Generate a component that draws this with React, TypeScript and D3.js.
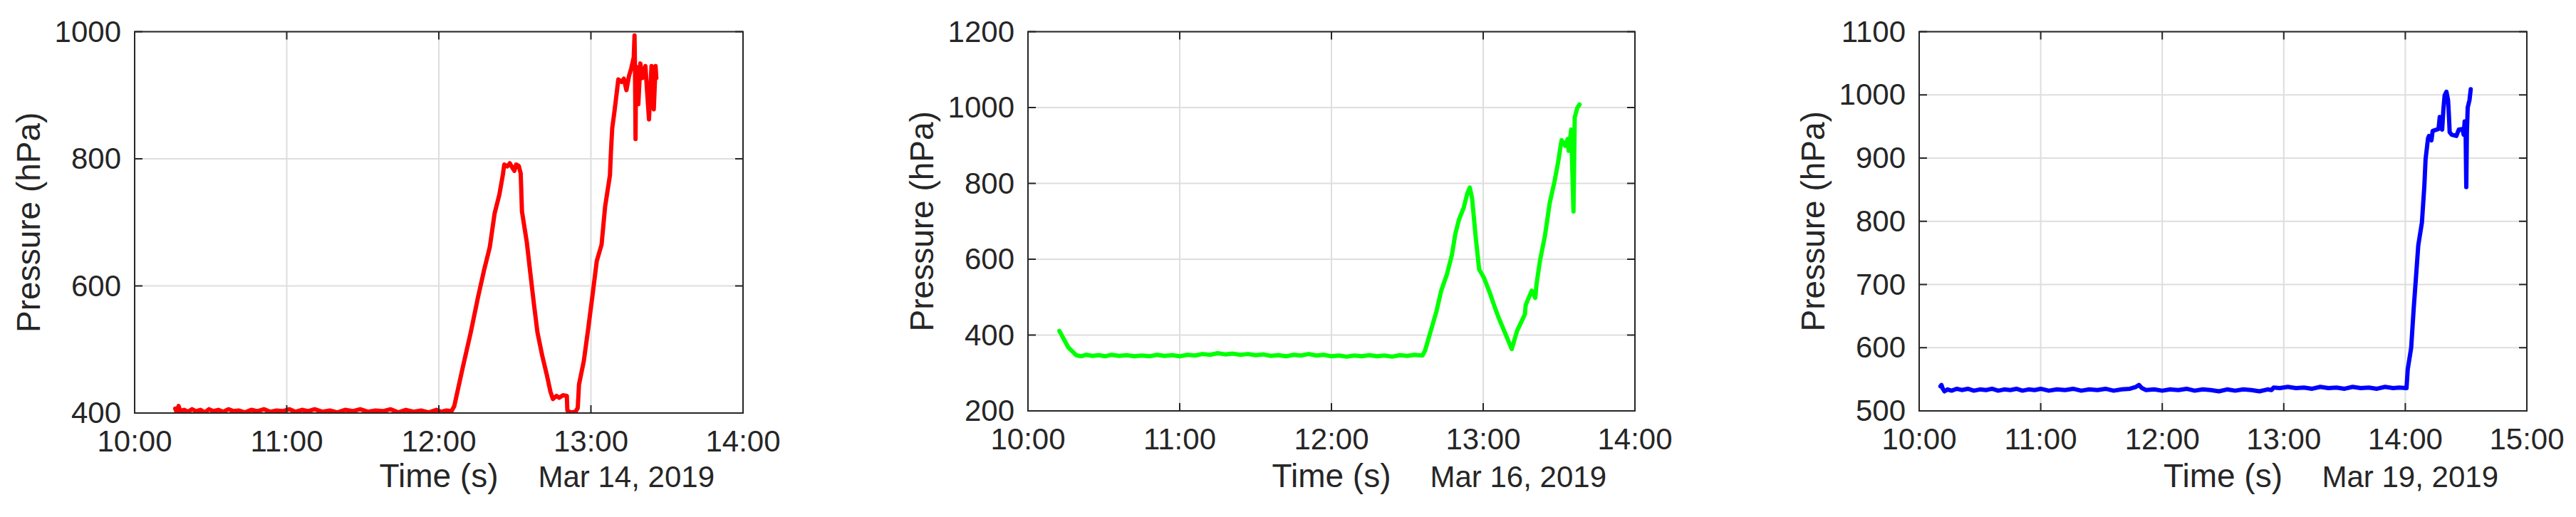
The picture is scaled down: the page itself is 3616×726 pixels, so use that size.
import React from "react";
import * as d3 from "d3";

// ---------------- DATA ----------------
const panelDates = ["2019-03-14", "2019-03-16", "2019-03-19"];
const panelDateLabels = ["Mar 14, 2019", "Mar 16, 2019", "Mar 19, 2019"];
const xEndHours = ["14", "14", "15"];

const yTicks1 = [400, 600, 800, 1000];
const yTicks2 = [200, 400, 600, 800, 1000, 1200];
const yTicks3 = [500, 600, 700, 800, 900, 1000, 1100];

const xAxisLabel = "Time (s)";
const yAxisLabel = "Pressure (hPa)";

// Mar 14 (red): [time, hPa]
const redSeries: [string, number][] = [
  ["10:16:00", 407], ["10:16:30", 402], ["10:17:20", 411], ["10:18:00", 403], ["10:19:30", 405],
  ["10:21:00", 402], ["10:22:40", 406], ["10:24:10", 403], ["10:26:00", 405], ["10:27:40", 401],
  ["10:29:20", 406], ["10:31:00", 403], ["10:33:00", 405], ["10:35:00", 402], ["10:37:00", 406],
  ["10:39:00", 403], ["10:41:00", 404], ["10:43:30", 401], ["10:46:00", 405], ["10:48:30", 403],
  ["10:51:00", 406], ["10:53:30", 402], ["10:56:00", 404], ["10:58:30", 403], ["11:01:00", 406],
  ["11:03:30", 402], ["11:06:00", 405], ["11:08:30", 403], ["11:11:00", 406], ["11:14:00", 402],
  ["11:17:00", 404], ["11:20:00", 401], ["11:23:00", 405], ["11:26:00", 403], ["11:29:00", 406],
  ["11:32:00", 402], ["11:35:00", 404], ["11:38:00", 403], ["11:41:00", 406], ["11:44:00", 401],
  ["11:47:00", 405], ["11:50:00", 402], ["11:53:00", 404], ["11:56:00", 401], ["11:59:00", 405],
  ["12:01:00", 402], ["12:03:00", 404], ["12:05:00", 403],
  ["12:06:06", 411], ["12:09:24", 471], ["12:12:36", 527], ["12:15:30", 583], ["12:17:48", 624],
  ["12:20:06", 661], ["12:22:00", 714], ["12:23:54", 744], ["12:25:18", 776], ["12:25:48", 791],
  ["12:27:00", 788], ["12:28:00", 793], ["12:29:00", 786], ["12:29:48", 781], ["12:30:30", 791],
  ["12:31:30", 789], ["12:32:18", 777], ["12:32:48", 717], ["12:34:42", 669], ["12:36:06", 620],
  ["12:37:30", 572], ["12:38:54", 527], ["12:40:48", 490], ["12:42:36", 460], ["12:44:00", 434],
  ["12:45:00", 422], ["12:46:24", 427], ["12:47:30", 424], ["12:49:00", 428], ["12:50:30", 427],
  ["12:50:42", 404], ["12:52:00", 401], ["12:53:54", 402], ["12:54:48", 408], ["12:55:18", 445],
  ["12:57:12", 482], ["12:59:00", 535], ["13:00:54", 594], ["13:02:18", 639], ["13:04:12", 665],
  ["13:05:36", 725], ["13:07:30", 774], ["13:07:54", 811], ["13:08:24", 848], ["13:09:18", 875],
  ["13:10:18", 908], ["13:10:48", 925], ["13:12:00", 921], ["13:13:00", 926], ["13:14:00", 908],
  ["13:15:00", 930], ["13:15:54", 942], ["13:16:54", 960], ["13:17:12", 994], ["13:17:24", 940],
  ["13:17:36", 831], ["13:17:48", 945], ["13:18:42", 886], ["13:19:30", 950], ["13:20:18", 927],
  ["13:21:30", 946], ["13:22:54", 862], ["13:23:54", 946], ["13:24:48", 878], ["13:25:30", 946],
  ["13:25:48", 927],
];

// Mar 16 (green)
const greenSeries: [string, number][] = [
  ["10:12:24", 411], ["10:15:54", 368], ["10:19:00", 347], ["10:21:00", 344], ["10:23:00", 348],
  ["10:25:30", 345], ["10:28:00", 347], ["10:30:30", 344], ["10:33:00", 348], ["10:36:00", 345],
  ["10:39:00", 347], ["10:42:00", 344], ["10:45:00", 346], ["10:48:00", 344], ["10:51:00", 348],
  ["10:54:00", 345], ["10:57:00", 347], ["11:00:00", 344], ["11:03:00", 348], ["11:06:00", 346],
  ["11:09:00", 350], ["11:12:00", 348], ["11:15:00", 352], ["11:18:00", 349], ["11:21:00", 351],
  ["11:24:00", 348], ["11:27:00", 350], ["11:30:00", 347], ["11:33:00", 349], ["11:36:00", 345],
  ["11:39:00", 347], ["11:42:00", 344], ["11:45:00", 348], ["11:48:00", 346], ["11:51:00", 350],
  ["11:54:00", 346], ["11:57:00", 348], ["12:00:00", 344], ["12:03:00", 346], ["12:06:00", 343],
  ["12:09:00", 346], ["12:12:00", 344], ["12:15:00", 347], ["12:18:00", 344], ["12:21:00", 346],
  ["12:24:00", 343], ["12:27:00", 347], ["12:30:00", 345], ["12:33:00", 348], ["12:36:00", 346],
  ["12:37:00", 359], ["12:41:30", 462], ["12:43:24", 517], ["12:45:42", 561], ["12:47:36", 611],
  ["12:49:00", 667], ["12:50:24", 704], ["12:52:18", 736], ["12:53:42", 773], ["12:54:42", 789],
  ["12:55:36", 761], ["12:57:00", 661], ["12:58:24", 573], ["13:00:18", 551], ["13:02:42", 510],
  ["13:04:36", 473], ["13:06:06", 446], ["13:11:18", 363], ["13:13:24", 411], ["13:16:30", 455],
  ["13:16:48", 479], ["13:19:12", 517], ["13:20:36", 498], ["13:21:06", 535], ["13:22:30", 598],
  ["13:24:24", 661], ["13:26:18", 748], ["13:28:12", 805], ["13:29:36", 855], ["13:31:00", 914],
  ["13:32:24", 899], ["13:33:24", 917], ["13:33:48", 886], ["13:34:48", 942], ["13:35:42", 726],
  ["13:36:12", 974], ["13:37:12", 999], ["13:38:06", 1008],
];

// Mar 19 (blue)
const blueSeries: [string, number][] = [
  ["10:10:30", 539], ["10:11:00", 541], ["10:11:40", 535], ["10:12:30", 531], ["10:14:00", 534],
  ["10:16:00", 532], ["10:18:30", 535], ["10:21:00", 533], ["10:24:00", 535], ["10:27:00", 532],
  ["10:30:00", 534], ["10:33:00", 533], ["10:36:00", 535], ["10:39:00", 532], ["10:42:00", 534],
  ["10:45:00", 533], ["10:48:00", 535], ["10:51:00", 532], ["10:54:00", 534], ["10:57:00", 533],
  ["11:00:00", 535], ["11:04:00", 532], ["11:08:00", 534], ["11:12:00", 533], ["11:16:00", 535],
  ["11:20:00", 532], ["11:24:00", 534], ["11:28:00", 533], ["11:32:00", 535], ["11:36:00", 532],
  ["11:40:00", 534], ["11:44:00", 535], ["11:47:00", 538], ["11:48:30", 541], ["11:50:00", 536],
  ["11:52:00", 533], ["11:56:00", 534], ["12:00:00", 532], ["12:04:00", 534], ["12:08:00", 533],
  ["12:12:00", 535], ["12:16:00", 532], ["12:20:00", 534], ["12:24:00", 533], ["12:28:00", 531],
  ["12:32:00", 534], ["12:36:00", 532], ["12:40:00", 534], ["12:44:00", 533], ["12:48:00", 531],
  ["12:52:00", 534], ["12:54:00", 533], ["12:55:00", 537], ["12:58:00", 536], ["13:02:00", 538],
  ["13:06:00", 536], ["13:10:00", 537], ["13:14:00", 535], ["13:18:00", 538], ["13:22:00", 536],
  ["13:26:00", 537], ["13:30:00", 535], ["13:34:00", 538], ["13:38:00", 536], ["13:42:00", 537],
  ["13:46:00", 535], ["13:50:00", 538], ["13:54:00", 536], ["13:57:00", 537], ["14:00:36", 536],
  ["14:01:12", 566], ["14:02:54", 600], ["14:04:06", 660], ["14:05:18", 713], ["14:06:24", 762],
  ["14:08:12", 798], ["14:09:24", 856], ["14:10:00", 898], ["14:11:12", 931], ["14:11:42", 935],
  ["14:12:54", 928], ["14:13:30", 943], ["14:16:24", 946], ["14:17:00", 965], ["14:18:12", 945],
  ["14:18:48", 977], ["14:19:24", 999], ["14:20:18", 1005], ["14:21:06", 992], ["14:21:30", 969],
  ["14:21:54", 941], ["14:22:54", 937], ["14:25:12", 935], ["14:26:24", 945], ["14:28:12", 946],
  ["14:28:48", 937], ["14:29:18", 958], ["14:29:48", 935], ["14:30:06", 854], ["14:30:24", 940],
  ["14:30:48", 980], ["14:31:42", 992], ["14:32:18", 1009],
];

// ---------------- STYLE ----------------
const FONT = "'Liberation Sans', Arial, Helvetica, sans-serif";
const AXIS_COLOR = "#262626";
const GRID_COLOR = "#dedede";
const TICK_LEN = 11;

const parse = d3.timeParse("%Y-%m-%d %H:%M:%S");

type PanelProps = {
  id: string;
  left: number;
  right: number;
  top: number;
  bottom: number;
  date: string;
  dateLabel: string;
  xEndHour: string;
  series: [string, number][];
  color: string;
  yTicks: number[];
};

function Panel({ id, left, right, top, bottom, date, dateLabel, xEndHour, series, color, yTicks }: PanelProps) {
  const x = d3
    .scaleTime()
    .domain([parse(`${date} 10:00:00`) as Date, parse(`${date} ${xEndHour}:00:00`) as Date])
    .range([left, right]);
  const y = d3
    .scaleLinear()
    .domain([yTicks[0], yTicks[yTicks.length - 1]])
    .range([bottom, top]);
  const xTicks = x.ticks(d3.timeHour.every(1) as any);
  const fmt = d3.timeFormat("%H:%M");
  const pts = series.map(([t, v]) => [parse(`${date} ${t}`) as Date, v] as [Date, number]);
  const line = d3
    .line<[Date, number]>()
    .x((d) => x(d[0]))
    .y((d) => y(d[1]));
  const cx = (left + right) / 2;
  const cy = (top + bottom) / 2;

  return (
    <g>
      <defs>
        <clipPath id={id}>
          <rect x={left} y={top} width={right - left} height={bottom - top} />
        </clipPath>
      </defs>
      {/* grid */}
      {xTicks.map((t, i) => (
        <line key={"gx" + i} x1={x(t)} x2={x(t)} y1={top} y2={bottom} stroke={GRID_COLOR} strokeWidth={2} />
      ))}
      {yTicks.map((v, i) => (
        <line key={"gy" + i} x1={left} x2={right} y1={y(v)} y2={y(v)} stroke={GRID_COLOR} strokeWidth={2} />
      ))}
      {/* data */}
      <path
        d={line(pts) || ""}
        fill="none"
        stroke={color}
        strokeWidth={6}
        strokeLinejoin="round"
        strokeLinecap="round"
        clipPath={`url(#${id})`}
      />
      {/* ticks */}
      {xTicks.map((t, i) => (
        <g key={"tx" + i}>
          <line x1={x(t)} x2={x(t)} y1={bottom} y2={bottom - TICK_LEN} stroke={AXIS_COLOR} strokeWidth={2} />
          <line x1={x(t)} x2={x(t)} y1={top} y2={top + TICK_LEN} stroke={AXIS_COLOR} strokeWidth={2} />
          <text
            x={x(t)}
            y={bottom + 54}
            textAnchor="middle"
            fontFamily={FONT}
            fontSize={42}
            fill={AXIS_COLOR}
          >
            {fmt(t)}
          </text>
        </g>
      ))}
      {yTicks.map((v, i) => (
        <g key={"ty" + i}>
          <line x1={left} x2={left + TICK_LEN} y1={y(v)} y2={y(v)} stroke={AXIS_COLOR} strokeWidth={2} />
          <line x1={right} x2={right - TICK_LEN} y1={y(v)} y2={y(v)} stroke={AXIS_COLOR} strokeWidth={2} />
          <text
            x={left - 19}
            y={y(v) + 14}
            textAnchor="end"
            fontFamily={FONT}
            fontSize={42}
            fill={AXIS_COLOR}
          >
            {v}
          </text>
        </g>
      ))}
      {/* box */}
      <rect x={left} y={top} width={right - left} height={bottom - top} fill="none" stroke={AXIS_COLOR} strokeWidth={2} />
      {/* labels */}
      <text x={cx} y={684} textAnchor="middle" fontFamily={FONT} fontSize={46} fill={AXIS_COLOR}>
        {xAxisLabel}
      </text>
      <text x={right - 40} y={684} textAnchor="end" fontFamily={FONT} fontSize={42} fill={AXIS_COLOR}>
        {dateLabel}
      </text>
      <text
        transform={`translate(${left - 133},${cy}) rotate(-90)`}
        textAnchor="middle"
        fontFamily={FONT}
        fontSize={46}
        fill={AXIS_COLOR}
      >
        {yAxisLabel}
      </text>
    </g>
  );
}

export default function App() {
  const layouts = [
    { left: 189, right: 1043, top: 44.5, bottom: 580 },
    { left: 1443, right: 2295, top: 44.5, bottom: 577 },
    { left: 2694, right: 3547, top: 44.5, bottom: 577 },
  ];
  const seriesList = [redSeries, greenSeries, blueSeries];
  const colors = ["#ff0000", "#00ff00", "#0000ff"];
  const tickList = [yTicks1, yTicks2, yTicks3];
  return (
    <svg
      width={3616}
      height={726}
      style={{ position: "absolute", left: 0, top: 0, background: "#ffffff" }}
    >
      <rect x={0} y={0} width={3616} height={726} fill="#ffffff" />
      {layouts.map((l, i) => (
        <Panel
          key={i}
          id={"clip" + i}
          {...l}
          date={panelDates[i]}
          dateLabel={panelDateLabels[i]}
          xEndHour={xEndHours[i]}
          series={seriesList[i]}
          color={colors[i]}
          yTicks={tickList[i]}
        />
      ))}
    </svg>
  );
}
